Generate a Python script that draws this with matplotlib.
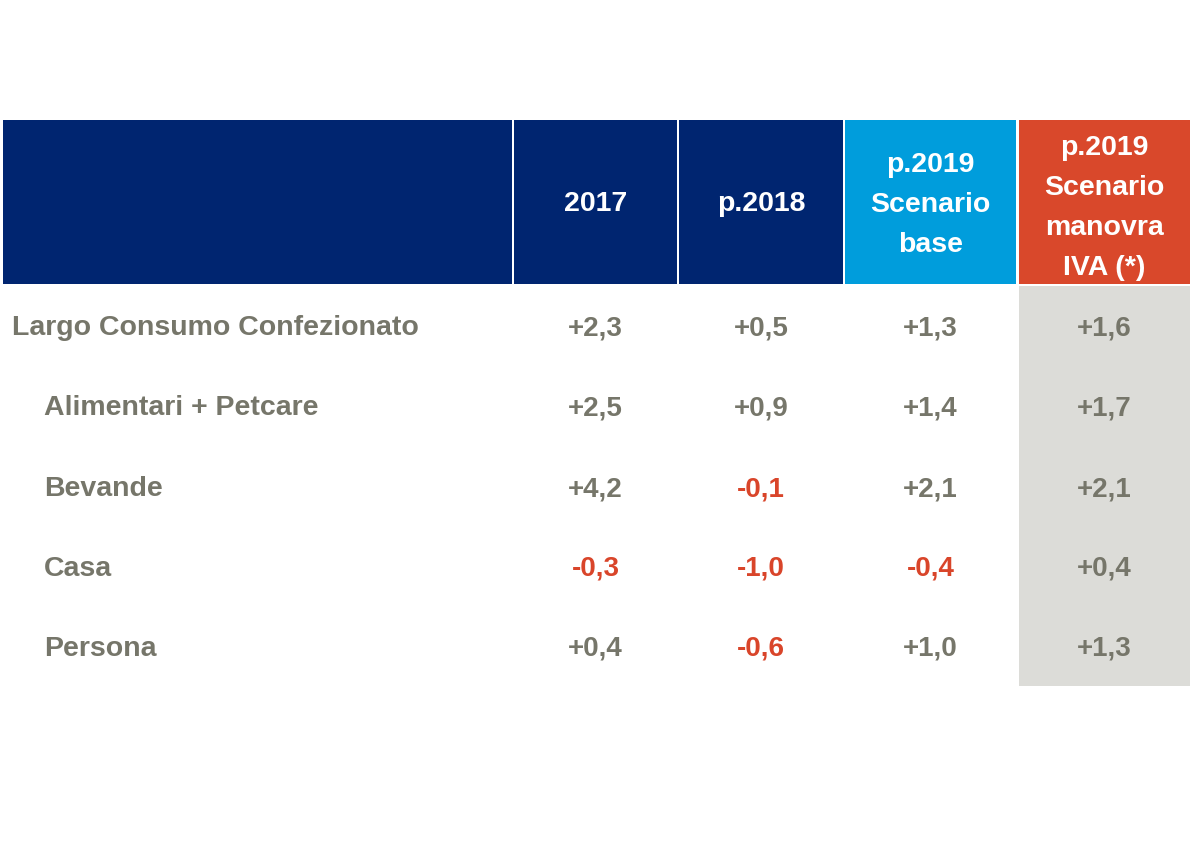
import matplotlib.pyplot as plt
from matplotlib.patches import Rectangle

plt.rcParams['font.family'] = ['Liberation Sans', 'DejaVu Sans']

# table content
columns = ["2017", "p.2018", "p.2019\nScenario\nbase", "p.2019\nScenario\nmanovra\nIVA (*)"]
categories = ["Largo Consumo Confezionato", "Alimentari + Petcare", "Bevande", "Casa", "Persona"]
indent = [False, True, True, True, True]
v2017 = [2.3, 2.5, 4.2, -0.3, 0.4]
v2018 = [0.5, 0.9, -0.1, -1.0, -0.6]
v2019_base = [1.3, 1.4, 2.1, -0.4, 1.0]
v2019_iva = [1.6, 1.7, 2.1, 0.4, 1.3]

NAVY = "#002570"
LIGHT_BLUE = "#009ddc"
ORANGE = "#d9482b"
GREY_TXT = "#76766a"
RED_TXT = "#d9452a"
GREY_BG = "#dcdcd8"


def fmt(v):
    return f"{v:+.1f}".replace(".", ",")


fig = plt.figure(figsize=(12, 8.5), dpi=100)
ax = fig.add_axes([0, 0, 1, 1])
ax.set_xlim(0, 1200)
ax.set_ylim(850, 0)
ax.axis("off")

# column geometry (pixels)
col_left = [514, 679, 845, 1019]
col_right = [677, 843, 1016, 1190]
header_top, header_bot = 120, 284
head_colors = [NAVY, NAVY, LIGHT_BLUE, ORANGE]

ax.add_patch(Rectangle((3, header_top), 509, header_bot - header_top, color=NAVY, lw=0))
for l, r, c in zip(col_left, col_right, head_colors):
    ax.add_patch(Rectangle((l, header_top), r - l, header_bot - header_top, color=c, lw=0))

# grey background of last column
ax.add_patch(Rectangle((col_left[3], header_bot + 2), col_right[3] - col_left[3], 686 - header_bot - 2,
                       color=GREY_BG, lw=0))

header_y = [204, 204, 205, 208]
for i, (l, r, txt) in enumerate(zip(col_left, col_right, columns)):
    ax.text((l + r) / 2, header_y[i], txt, ha="center", va="center", color="white",
            fontsize=20.5, fontweight="bold", linespacing=1.7)

row_y = [328, 408, 489, 569, 649]
series = [v2017, v2018, v2019_base, v2019_iva]
for i, cat in enumerate(categories):
    x = 44 if indent[i] else 12
    ax.text(x, row_y[i], cat, ha="left", va="center", color=GREY_TXT, fontsize=20.5, fontweight="bold")
    for j, vals in enumerate(series):
        v = vals[i]
        color = RED_TXT if v < 0 else GREY_TXT
        ax.text((col_left[j] + col_right[j]) / 2, row_y[i], fmt(v), ha="center", va="center",
                color=color, fontsize=20, fontweight="bold")

fig.savefig("out.png", dpi=100)
